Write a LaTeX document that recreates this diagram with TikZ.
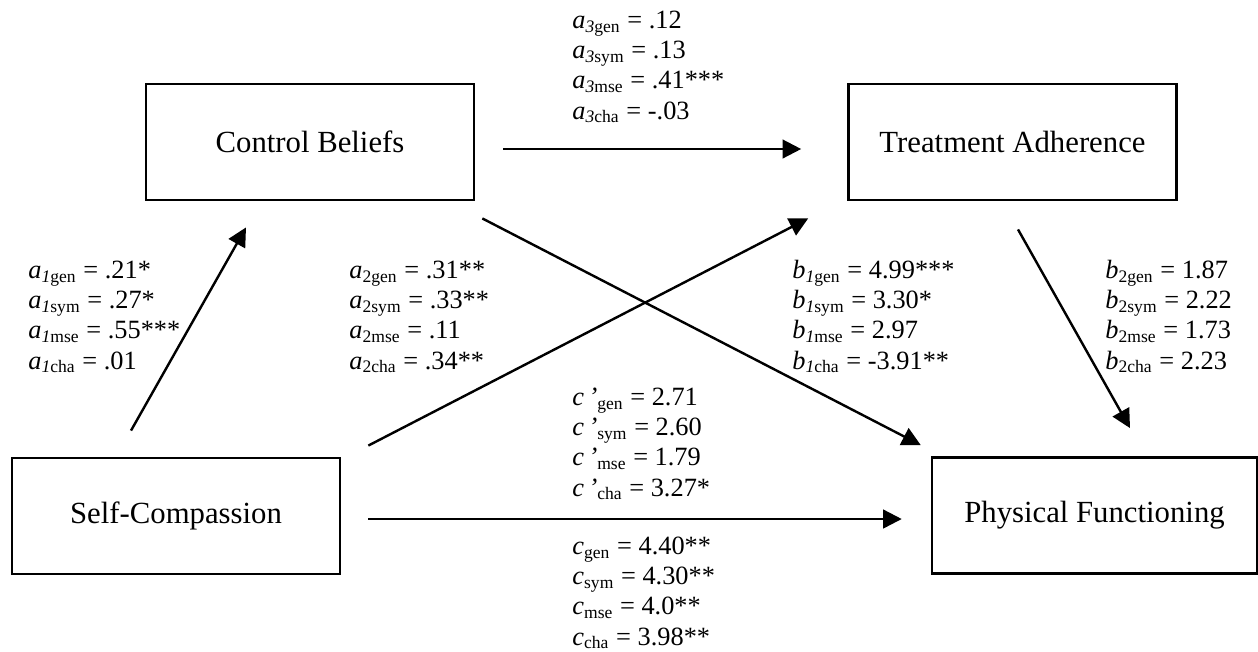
\documentclass[tikz,border=0pt]{standalone}
\usepackage{fontspec}
\setmainfont{Liberation Serif}
\usetikzlibrary{arrows.meta, positioning, calc}
\newcommand{\coefline}[3]{\textit{#1}\textsubscript{#2} = #3}

\begin{document}
\begin{tikzpicture}[
  x=0.016cm, y=-0.016cm,
  box/.style={rectangle, draw, line width=1.2pt, minimum width=5.25cm,
              minimum height=1.86cm, inner sep=0pt, font=\fontsize{14}{16}\selectfont},
  coef/.style={align=left, anchor=base west, inner sep=0pt,
               font=\fontsize{12}{13.7}\selectfont},
  arr/.style={-{Triangle[length=8.5pt, width=8.5pt]}, line width=1.1pt}
]
\useasboundingbox (0,0) rectangle (1258,651);
\node[box] (cb) at (310,142)    {Control Beliefs};
\node[box] (ta) at (1012.5,142) {Treatment Adherence};
\node[box] (sc) at (176,516)    {Self-Compassion};
\node[box, minimum width=5.2cm] (pf) at (1094.5,515.5) {Physical Functioning};
\draw[arr] ([shift={(-45,-26)}]sc.north)     -- ([shift={(-64,26)}]cb.south);
\draw[arr] ([shift={(28,7)}]cb.east)         -- ([shift={(-46,7)}]ta.west);
\draw[arr] ([shift={(7,17)}]cb.south east)   -- ([shift={(-10,-11)}]pf.north west);
\draw[arr] ([shift={(27,-11)}]sc.north east) -- ([shift={(-39,17)}]ta.south west);
\draw[arr] ([shift={(5.5,28)}]ta.south)      -- ([shift={(35.5,-28)}]pf.north);
\draw[arr] ([shift={(27,3)}]sc.east)         -- ([shift={(-29,3.5)}]pf.west);
\node[coef] (la1) at (28,369)
  {\coefline{a}{\textit{1}gen}{.21*}\\\coefline{a}{\textit{1}sym}{.27*}\\
   \coefline{a}{\textit{1}mse}{.55***}\\\coefline{a}{\textit{1}cha}{.01}};
\node[coef] (la2) at (349,369)
  {\coefline{a}{2gen}{.31**}\\\coefline{a}{2sym}{.33**}\\
   \coefline{a}{2mse}{.11}\\\coefline{a}{2cha}{.34**}};
\node[coef] (la3) at (572,119)
  {\coefline{a}{\textit{3}gen}{.12}\\\coefline{a}{\textit{3}sym}{.13}\\
   \coefline{a}{\textit{3}mse}{.41***}\\\coefline{a}{\textit{3}cha}{-.03}};
\node[coef] (lb1) at (792,369)
  {\coefline{b}{\textit{1}gen}{4.99***}\\\coefline{b}{\textit{1}sym}{3.30*}\\
   \coefline{b}{\textit{1}mse}{2.97}\\\coefline{b}{\textit{1}cha}{-3.91**}};
\node[coef] (lb2) at (1105,369)
  {\coefline{b}{2gen}{1.87}\\\coefline{b}{2sym}{2.22}\\
   \coefline{b}{2mse}{1.73}\\\coefline{b}{2cha}{2.23}};
\node[coef] (lcp) at (572,496)
  {\coefline{c\,’}{gen}{2.71}\\\coefline{c\,’}{sym}{2.60}\\
   \coefline{c\,’}{mse}{1.79}\\\coefline{c\,’}{cha}{3.27*}};
\node[coef] (lc) at (572,645)
  {\coefline{c}{gen}{4.40**}\\\coefline{c}{sym}{4.30**}\\
   \coefline{c}{mse}{4.0**}\\\coefline{c}{cha}{3.98**}};
\end{tikzpicture}
\end{document}
